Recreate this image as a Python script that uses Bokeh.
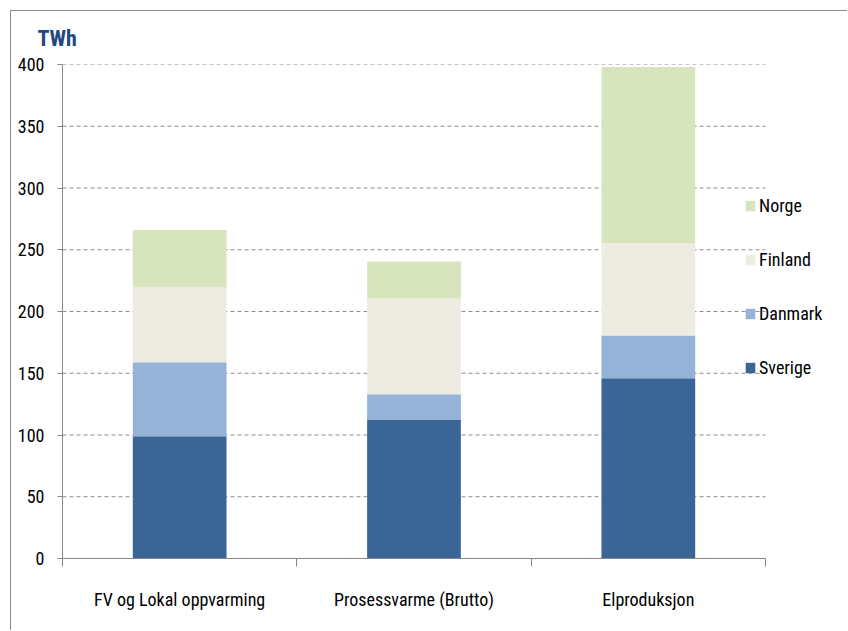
from bokeh.plotting import figure
from bokeh.models import (ColumnDataSource, Range1d, FixedTicker, Legend, LegendItem)
from bokeh.embed import file_html
from bokeh.resources import INLINE

categories = ["FV og Lokal oppvarming", "Prosessvarme (Brutto)", "Elproduksjon"]
sverige = [99, 112.5, 146]
danmark = [60, 20.5, 34.5]
finland = [60.5, 77.5, 75]
norge = [46.5, 30, 142.5]
series_names = ["Sverige", "Danmark", "Finland", "Norge"]
colors = ["#3B6597", "#95B3D7", "#EEECE1", "#D7E4BD"]
y_ticks = [0, 50, 100, 150, 200, 250, 300, 350, 400]

FONT = "Roboto Condensed, DejaVu Sans Condensed, Liberation Sans Narrow, Roboto, sans-serif"

n = len(categories)
xpos = [i + 0.5 for i in range(n)]
source = ColumnDataSource(dict(x=xpos, Sverige=sverige, Danmark=danmark,
                               Finland=finland, Norge=norge))
grid_src = ColumnDataSource(dict(y=y_ticks[1:], x0=[0] * (len(y_ticks) - 1),
                                 x1=[n] * (len(y_ticks) - 1)))

# frame: page x 62..838 ; categories occupy 62..765
cat_px = 703.0
frame_px = 776.0
x_end = n * frame_px / cat_px

p = figure(width=837, height=620, x_range=Range1d(0, x_end),
           y_range=Range1d(0, 400), output_backend="svg", toolbar_location=None,
           min_border_left=51, min_border_right=10, min_border_top=53,
           min_border_bottom=73)
p.styles = {"margin-left": "10px", "margin-top": "10px",
            "border-left": "1px solid #8c8c8c", "border-top": "1px solid #8c8c8c"}
p.outline_line_color = None
p.background_fill_color = "white"
p.border_fill_color = "white"

p.segment(x0="x0", x1="x1", y0="y", y1="y", source=grid_src,
          line_color="#8c8c8c", line_dash="4 3", line_width=1)

renderers = p.vbar_stack(series_names, x="x", width=0.4, color=colors,
                         line_color=None, source=source)

# title
p.title.text = "TWh"
p.title.text_font = FONT
p.title.text_font_size = "22px"
p.title.text_font_style = "bold"
p.title.text_color = "#1F497D"
p.title.text_line_height = 1.0
p.title.vertical_align = "top"
p.title.align = "left"
p.title.offset = -25
p.title.standoff = 24

# y axis
p.yaxis.ticker = FixedTicker(ticks=y_ticks)
p.yaxis.axis_line_color = "#868686"
p.yaxis.major_tick_line_color = "#868686"
p.yaxis.major_tick_out = 5
p.yaxis.major_tick_in = 0
p.yaxis.minor_tick_line_color = None
p.yaxis.major_label_standoff = 13
p.yaxis.major_label_text_font = FONT
p.yaxis.major_label_text_font_size = "18px"
p.yaxis.major_label_text_color = "black"

# x axis
p.xaxis.ticker = FixedTicker(ticks=xpos, minor_ticks=list(range(n + 1)))
p.xaxis.bounds = (0, n)
p.xaxis.major_label_overrides = {x: c for x, c in zip(xpos, categories)}
p.xaxis.axis_line_color = "#868686"
p.xaxis.major_tick_line_color = None
p.xaxis.major_tick_out = 0
p.xaxis.major_tick_in = 0
p.xaxis.minor_tick_line_color = "#868686"
p.xaxis.minor_tick_out = 8
p.xaxis.minor_tick_in = 0
p.xaxis.major_label_standoff = 22
p.xaxis.major_label_text_font = FONT
p.xaxis.major_label_text_font_size = "18px"
p.xaxis.major_label_text_color = "black"

p.xgrid.grid_line_color = None
p.ygrid.grid_line_color = None

items = [LegendItem(label=s, renderers=[r]) for s, r in zip(series_names, renderers)]
legend = Legend(items=list(reversed(items)), location=(682, 180),
                border_line_color=None, background_fill_alpha=0,
                padding=0, margin=0, spacing=33, glyph_width=12, glyph_height=13,
                label_height=20, label_standoff=3,
                label_text_font=FONT, label_text_font_size="18px",
                label_text_color="black")
p.add_layout(legend, "center")

open("out.html", "w").write(file_html(p, INLINE))
